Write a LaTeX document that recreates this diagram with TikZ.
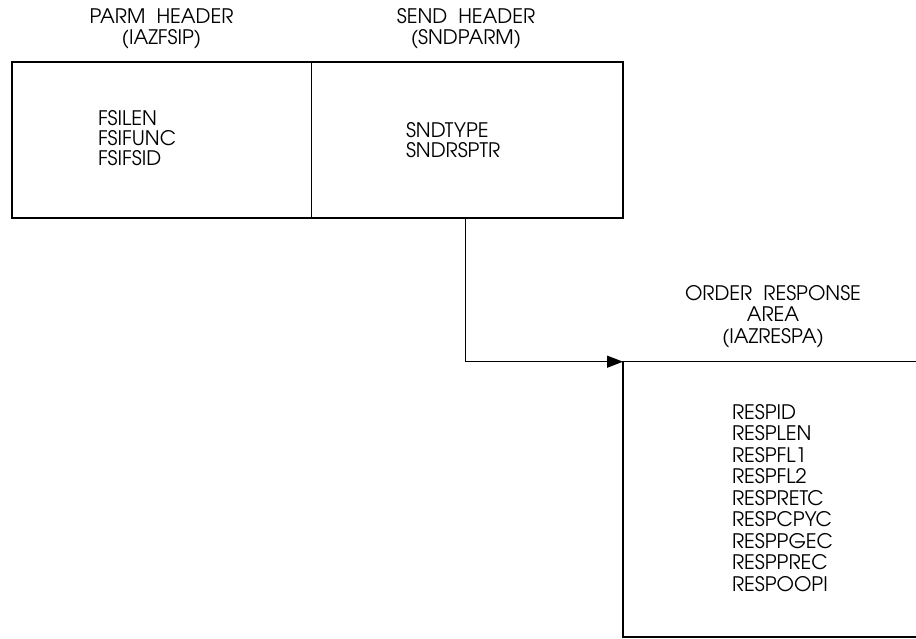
\documentclass[tikz,border=0pt]{standalone}
\usepackage{fontspec}
\setmainfont{TeX Gyre Adventor}
\usetikzlibrary{arrows.meta}
\begin{document}
\begin{tikzpicture}[x=1pt,y=-1pt,
  every node/.style={inner sep=0pt, outer sep=0pt},
  box/.style={draw, line width=1.2pt},
  lbl/.style={font=\fontsize{20}{21}\selectfont, anchor=base},
  item/.style={font=\fontsize{20}{21}\selectfont, anchor=base west},
  conn/.style={line width=1.2pt, -{Triangle[length=16pt,width=12pt]}},
  edge/.style={line width=1.2pt}]
\path[use as bounding box] (0,0) rectangle (916,639);
% top boxes
\node[box, minimum width=299.7pt, minimum height=156pt, anchor=north west] (parm) at (12,62) {};
\node[box, minimum width=311.3pt, minimum height=156pt, anchor=north west] (send) at (311.7,62) {};
% order response area (open on the right)
\node[minimum width=310pt, minimum height=275.3pt, anchor=north west] (order) at (623,361.7) {};
\draw[edge] (order.north east) -- (order.north west) -- (order.south west) -- (order.south east);
% headings
\node[lbl] (parmh1) at (161.5,24) {PARM~~HEADER};
\node[lbl] (parmh2) at (161.5,45) {(IAZFSIP)};
\node[lbl] (sendh1) at (466,24) {SEND~~HEADER};
\node[lbl] (sendh2) at (466,45) {(SNDPARM)};
\node[lbl] (ordh1) at (773,300) {ORDER~~RESPONSE};
\node[lbl] (ordh2) at (773,321.5) {AREA};
\node[lbl] (ordh3) at (773,343) {(IAZRESPA)};
% fields
\foreach \t [count=\i] in {FSILEN,FSIFUNC,FSIFSID}
  \node[item] (fsi\i) at (98,{126+20*(\i-1)}) {\t};
\foreach \t [count=\i] in {SNDTYPE,SNDRSPTR}
  \node[item] (snd\i) at (406,{138+20*(\i-1)}) {\t};
\foreach \t [count=\i] in {RESPID,RESPLEN,RESPFL1,RESPFL2,RESPRETC,RESPCPYC,RESPPGEC,RESPPREC,RESPOOPI}
  \node[item] (resp\i) at (732,{419+21.5*(\i-1)}) {\t};
% connector
\draw[conn] ([xshift=-1.6pt]send.south) |- (order.north west);
\end{tikzpicture}
\end{document}
